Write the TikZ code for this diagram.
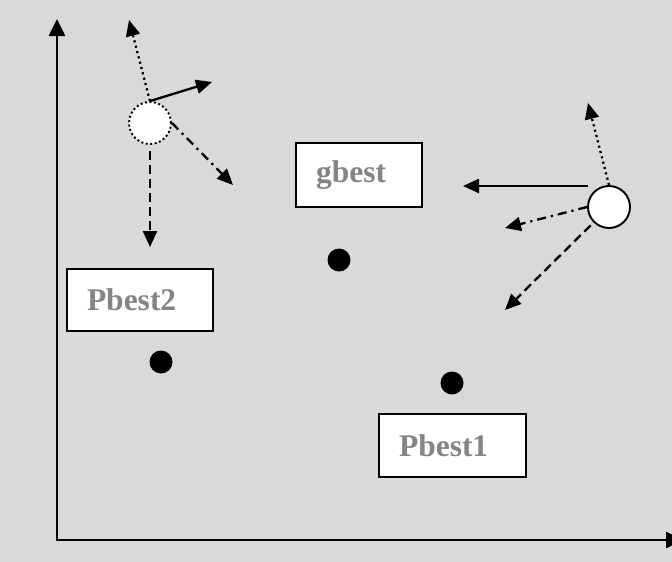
\documentclass[tikz,border=0pt]{standalone}
\usepackage{fontspec}
\setmainfont{Liberation Serif}
\usetikzlibrary{arrows.meta}
\definecolor{bgfill}{RGB}{217,217,217}
\definecolor{labelgray}{RGB}{132,132,132}

\begin{document}
\begin{tikzpicture}[x=1pt,y=-1pt,
  axisline/.style={line width=2.6pt, line join=miter,
    {Triangle[length=17pt,width=16pt]}-{Triangle[length=17pt,width=16pt]}},
  move/.style={line width=2.3pt, -{Triangle[length=16pt,width=14pt]}},
  dotline/.style={dash pattern=on 2.2pt off 3.3pt},
  dashline/.style={dash pattern=on 9pt off 5pt},
  dashdotline/.style={dash pattern=on 9pt off 5pt on 2.2pt off 5pt},
  particle/.style={circle, draw, fill=white, line width=1.9pt,
    minimum size=42pt, inner sep=0pt},
  bestbox/.style={draw, fill=white, line width=2pt, inner xsep=20pt,
    inner ysep=0pt, align=left, text=labelgray,
    font=\fontsize{31.5}{36}\selectfont\bfseries},
  bestdot/.style={circle, fill=black, minimum size=23pt, inner sep=0pt},
]
\clip (0,0) rectangle (672,562);
\fill[bgfill] (0,0) rectangle (672,562);

% axes
\coordinate (origin) at (57,540);
\coordinate (ytip) at (57,19);
\coordinate (xtip) at (683,540);
\draw[axisline] (ytip) |- (xtip);

% best-position boxes and their points
\node[bestbox, text width=86pt, minimum height=64pt] (gbest) at (359,175) {gbest};
\node[bestbox, text width=106pt, minimum height=62pt] (pbest2) at (140,300) {Pbest2};
\node[bestbox, text width=107pt, minimum height=63pt] (pbest1) at (452.5,445.5) {Pbest1};
\node[bestdot] (gdot) at (339,260) {};
\node[bestdot] (p2dot) at (161,362) {};
\node[bestdot] (p1dot) at (452,383) {};

% particles
\node[particle, dash pattern=on 2pt off 2.5pt] (p2) at (150,123) {};
\node[particle] (p1) at (609,207) {};

% velocity components of particle 2
\coordinate (p2a) at (129,20);
\coordinate (p2b) at (212,82);
\coordinate (p2c) at (233,185);
\coordinate (p2d) at (150,247);
\draw[move, dotline] (p2.north) -- (p2a);
\draw[move] (p2.north) -- (p2b);
\draw[move, dashdotline] (p2.east) -- (p2c);
\draw[move, dashline, shorten <=6pt] (p2.south) -- (p2d);

% velocity components of particle 1
\coordinate (p1s) at (588,186);
\coordinate (p1a) at (588,103);
\coordinate (p1b) at (463,186);
\coordinate (p1c) at (505,228);
\coordinate (p1d) at (505,310);
\draw[move, dotline] (p1.north) -- (p1a);
\draw[move] (p1s) -- (p1b);
\draw[move, dashdotline] (p1.west) -- (p1c);
\draw[move, dashline, shorten <=4pt] (p1.225) -- (p1d);
\end{tikzpicture}
\end{document}
